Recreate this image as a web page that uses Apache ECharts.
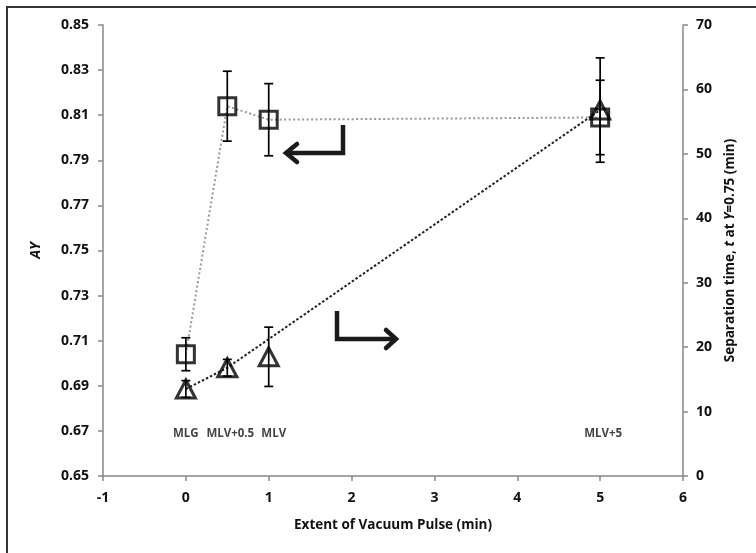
<!DOCTYPE html>
<html>
<head>
<meta charset="utf-8">
<script src="https://cdn.jsdelivr.net/npm/echarts@6/dist/echarts.min.js"></script>
<style>html,body{margin:0;padding:0;background:#fff}#c{width:756px;height:553px}</style>
</head>
<body>
<div id="c"></div>
<script>
// ---- data ----
const pulseX = [0, 0.5, 1, 5];                 // extent of vacuum pulse (min)
const caseLabels = ['MLG', 'MLV+0.5', 'MLV', 'MLV+5'];
const ayValues = [0.704, 0.814, 0.808, 0.809];  // AY (squares, left axis)
const ayErr = [0.0073, 0.0155, 0.016, 0.0165];
const tValues = [13.5, 16.8, 18.5, 56.8];       // separation time t (triangles, right axis)
const tErr = [1.3, 1.3, 4.6, 8.1];
const tLineIdx = [0, 1, 3];                     // points joined by the dashed t line
const labelAY = 0.6686;                         // level of case labels (left axis)
const xTicks = [-1, 0, 1, 2, 3, 4, 5, 6];
const ayTicks = [0.65, 0.67, 0.69, 0.71, 0.73, 0.75, 0.77, 0.79, 0.81, 0.83, 0.85];
const tTicks = [0, 10, 20, 30, 40, 50, 60, 70];

// ---- chart ----
const FONT = '"Open Sans"';
const chart = echarts.init(document.getElementById('c'), null, {renderer: 'canvas'});

function errRender(params, api) {
  const x = api.value(0), y = api.value(1), e = api.value(2);
  const top = api.coord([x, y + e]);
  const bot = api.coord([x, y - e]);
  const w = 4.5;
  const st = {stroke: '#000', lineWidth: 1.7};
  return {
    type: 'group',
    children: [
      {type: 'line', shape: {x1: top[0], y1: top[1], x2: bot[0], y2: bot[1]}, style: st},
      {type: 'line', shape: {x1: top[0] - w, y1: top[1], x2: top[0] + w, y2: top[1]}, style: st},
      {type: 'line', shape: {x1: bot[0] - w, y1: bot[1], x2: bot[0] + w, y2: bot[1]}, style: st}
    ]
  };
}

const labelOffsets = [[0, 0], [3, 0], [5, 0], [3, 0]];

const axisLabelStyle = {fontFamily: FONT, fontWeight: 'bold', fontSize: 14, color: '#111'};
const axisLineStyle = {onZero: false, lineStyle: {color: '#888', width: 1.5}};
const axisTickStyle = {show: true, inside: false, length: 5, lineStyle: {color: '#888', width: 1.5}};

const option = {
  animation: false,
  backgroundColor: '#fff',
  grid: {left: 103, right: 73, top: 25, bottom: 77},
  xAxis: {
    type: 'value', min: xTicks[0], max: xTicks[xTicks.length - 1], interval: 1,
    name: 'Extent of Vacuum Pulse (min)', nameLocation: 'middle', nameGap: 42,
    nameTextStyle: {fontFamily: FONT, fontWeight: 'bold', fontSize: 13.5, color: '#111'},
    axisLine: axisLineStyle,
    axisTick: axisTickStyle,
    splitLine: {show: false},
    axisLabel: {...axisLabelStyle, margin: 15}
  },
  yAxis: [
    {
      type: 'value', min: ayTicks[0], max: ayTicks[ayTicks.length - 1], interval: 0.02,
      name: 'AY', nameLocation: 'middle', nameGap: 60,
      nameTextStyle: {fontFamily: FONT, fontWeight: 'bold', fontStyle: 'italic', fontSize: 14, color: '#111'},
      axisLine: {show: true, ...axisLineStyle},
      axisTick: axisTickStyle,
      splitLine: {show: false},
      axisLabel: {...axisLabelStyle, margin: 14, formatter: v => v.toFixed(2)}
    },
    {
      type: 'value', position: 'right', min: tTicks[0], max: tTicks[tTicks.length - 1], interval: 10,
      name: '{a|Separation time, }{i|t}{a| at }{i|Y}{a|=0.75 (min)}',
      nameLocation: 'middle', nameGap: 40,
      nameTextStyle: {
        rich: {
          a: {fontFamily: FONT, fontWeight: 'bold', fontSize: 13.5, color: '#111'},
          i: {fontFamily: FONT, fontWeight: 'bold', fontStyle: 'italic', fontSize: 13.5, color: '#111'}
        }
      },
      axisLine: {show: true, ...axisLineStyle},
      axisTick: axisTickStyle,
      splitLine: {show: false},
      axisLabel: {...axisLabelStyle, margin: 13}
    }
  ],
  series: [
    {
      type: 'line', name: 'AY line', xAxisIndex: 0, yAxisIndex: 0,
      data: pulseX.map((x, i) => [x, ayValues[i]]),
      symbol: 'none', z: 2,
      lineStyle: {color: '#999', width: 2, type: [2, 2.5]}
    },
    {
      type: 'line', name: 't line', xAxisIndex: 0, yAxisIndex: 1,
      data: tLineIdx.map(i => [pulseX[i], tValues[i]]),
      symbol: 'none', z: 2,
      lineStyle: {color: '#222', width: 2, type: [2.5, 2]}
    },
    {
      type: 'custom', name: 'AY err', xAxisIndex: 0, yAxisIndex: 0, z: 3,
      renderItem: errRender,
      data: pulseX.map((x, i) => [x, ayValues[i], ayErr[i]])
    },
    {
      type: 'custom', name: 't err', xAxisIndex: 0, yAxisIndex: 1, z: 3,
      renderItem: errRender,
      data: pulseX.map((x, i) => [x, tValues[i], tErr[i]])
    },
    {
      type: 'scatter', name: 'AY', xAxisIndex: 0, yAxisIndex: 0, z: 4,
      data: pulseX.map((x, i) => [x, ayValues[i]]),
      symbol: 'rect', symbolSize: 17,
      itemStyle: {color: 'rgba(0,0,0,0)', borderColor: '#000', borderWidth: 3}
    },
    {
      type: 'scatter', name: 't', xAxisIndex: 0, yAxisIndex: 1, z: 4,
      data: pulseX.map((x, i) => [x, tValues[i]]),
      symbol: 'triangle', symbolSize: [19, 18],
      itemStyle: {color: 'rgba(0,0,0,0)', borderColor: '#000', borderWidth: 3}
    },
    {
      type: 'scatter', name: 'cases', xAxisIndex: 0, yAxisIndex: 0, z: 5,
      symbolSize: 0,
      data: pulseX.map((x, i) => ({
        value: [x, labelAY],
        name: caseLabels[i],
        label: {offset: labelOffsets[i]}
      })),
      label: {
        show: true, position: 'inside', formatter: p => p.name,
        fontFamily: FONT, fontWeight: 'bold', fontSize: 11.5, color: '#111'
      }
    }
  ],
  graphic: [
    {type: 'rect', shape: {x: 7, y: 7, width: 800, height: 600}, style: {fill: 'none', stroke: '#333', lineWidth: 2}, z: 10},
    // left-pointing arrow (refers to AY axis)
    {type: 'polyline', shape: {points: [[343, 125], [343, 153], [288, 153]]}, style: {fill: 'none', stroke: '#1a1a1a', lineWidth: 4.5, lineJoin: 'miter'}, z: 10},
    {type: 'polyline', shape: {points: [[297, 144], [286, 153], [297, 162]]}, style: {fill: 'none', stroke: '#1a1a1a', lineWidth: 4.5, lineJoin: 'miter', lineCap: 'round'}, z: 10},
    // right-pointing arrow (refers to t axis)
    {type: 'polyline', shape: {points: [[337, 311], [337, 339], [394, 339]]}, style: {fill: 'none', stroke: '#1a1a1a', lineWidth: 4.5, lineJoin: 'miter'}, z: 10},
    {type: 'polyline', shape: {points: [[386, 330], [396, 339], [386, 348]]}, style: {fill: 'none', stroke: '#1a1a1a', lineWidth: 4.5, lineJoin: 'miter', lineCap: 'round'}, z: 10}
  ]
};
chart.setOption(option);
</script>
</body>
</html>
